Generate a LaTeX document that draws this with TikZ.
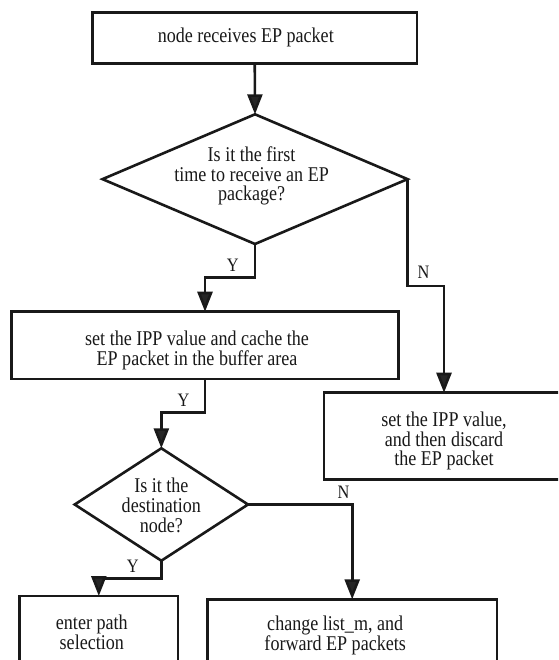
\documentclass[tikz,border=0pt]{standalone}
\usepackage{fontspec}
\setmainfont{Liberation Serif}[FakeStretch=0.86]
\usetikzlibrary{arrows.meta,shapes.geometric}
\tikzset{
  ln/.style={line width=2.6pt, draw=black!90},
  box/.style={ln, rectangle, inner sep=0pt, outer sep=0pt, fill=white},
  dia/.style={ln, diamond, inner sep=0pt, outer sep=0pt, fill=white},
  txt/.style={font=\fontsize{21}{19.7}\selectfont, align=center, inner sep=0pt, text=black!90},
  lab/.style={font=\fontsize{19}{19}\selectfont, inner sep=0pt, text=black!90},
  arr/.style={ln, -{Triangle[length=20pt,width=15pt,fill=black!85]}}
}
\begin{document}
\begin{tikzpicture}[x=1pt,y=-1pt]
\clip (0,0) rectangle (558,660);
\fill[white] (0,0) rectangle (558,660);

\node[box, minimum width=324.5pt, minimum height=50.6pt,
  label={[txt,xshift=-9pt,yshift=1pt]center:node receives EP packet}] (b1) at (254.75,38) {};
\node[dia, minimum width=305pt, minimum height=129.7pt,
  label={[txt,xshift=-3.4pt,yshift=3pt]center:Is it the first\\time to receive an EP\\package?}] (d1) at (255,179.15) {};
\node[box, minimum width=387.2pt, minimum height=67.3pt,
  label={[txt,xshift=-8pt,yshift=-5pt]center:set the IPP value and cache the\\EP packet in the buffer area}] (b2) at (205,345.35) {};
\node[box, minimum width=240pt, minimum height=86.6pt,
  label={[txt,yshift=-5pt]center:set the IPP value,\\and then discard\\the EP packet}] (b3) at (444,436) {};
\node[dia, minimum width=173.3pt, minimum height=112.4pt,
  label={[txt,yshift=-1pt]center:Is it the\\destination\\node?}] (d2) at (161.35,504.5) {};
\node[box, minimum width=158.4pt, minimum height=94pt,
  label={[txt,xshift=-7pt,yshift=11pt]center:enter path\\selection}] (b4) at (98.8,643) {};
\node[box, minimum width=289.6pt, minimum height=90.7pt,
  label={[txt,xshift=-17pt,yshift=9pt]center:change list\_m, and\\forward EP packets}] (b5) at (352.2,644.65) {};

\draw[arr] (b1.south) -- (d1.north);
\draw[arr] (d1.south) -- ++(0,33.7) -| (b2.north);
\draw[arr] (d1.east) -- ++(0,106.7) -| (b3.north);
\draw[arr] (b2.south) -- ++(0,33.7) -| (d2.north);
\draw[arr] (d2.east) -| (b5.north);
\draw[arr] (d2.south) -- ++(0,17.6) -| (b4.north);

\node[lab] (y1) at (232.7,265.7) {Y};
\node[lab] (n1) at (423.5,272.7) {N};
\node[lab] (y2) at (183.6,400) {Y};
\node[lab] (n2) at (343.4,492.3) {N};
\node[lab] (y3) at (132.7,566.7) {Y};
\end{tikzpicture}
\end{document}
